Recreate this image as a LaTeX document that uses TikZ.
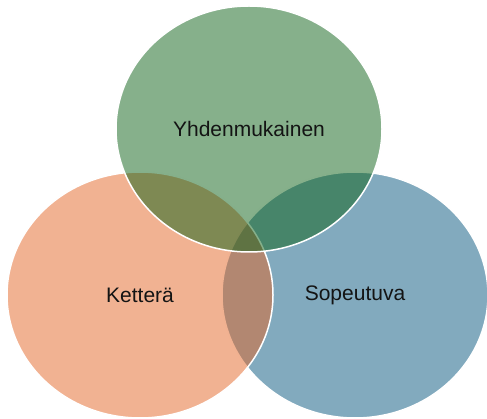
\documentclass[tikz,border=0pt]{standalone}
\usepackage{fontspec}
\setmainfont{Liberation Sans}
\usepackage{tikz}
\usepackage{xcolor}
\usetikzlibrary{shapes.geometric}

\definecolor{vennGreen}{RGB}{13,97,23}
\definecolor{vennOrange}{RGB}{227,101,37}
\definecolor{vennBlue}{RGB}{5,85,125}
\definecolor{vennText}{RGB}{20,20,20}

\tikzset{
    venn/.style={ellipse, draw=white, line width=1.5pt, fill opacity=0.5,
        text opacity=1, minimum width=266pt, minimum height=246pt,
        inner sep=0pt, text=vennText, font=\fontsize{21}{25}\selectfont}
}

\begin{document}
\begin{tikzpicture}[x=1pt, y=-1pt]
    \useasboundingbox (0,0) rectangle (487,419);

    % Lower right set
    \node[venn, fill=vennBlue] (sopeutuva) at (355,295) {Sopeutuva};

    % Lower left set
    \node[venn, fill=vennOrange] (kettera) at (140,295) {Ketterä};

    % Upper set
    \node[venn, fill=vennGreen] (yhdenmukainen) at (249,129) {Yhdenmukainen};
\end{tikzpicture}
\end{document}
